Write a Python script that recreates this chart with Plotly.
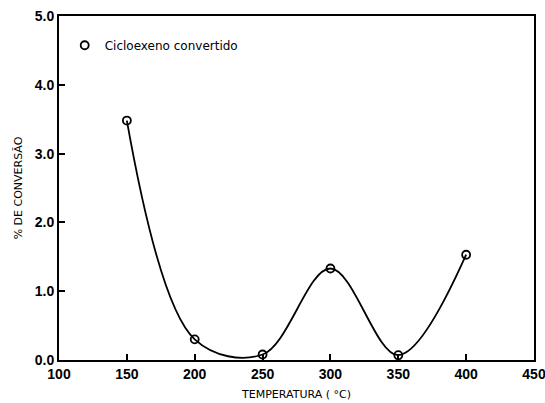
import plotly.graph_objects as go

temperatura = [150, 200, 250, 300, 350, 400]
conversao = [3.48, 0.30, 0.08, 1.33, 0.07, 1.53]

x_ticks = [100, 150, 200, 250, 300, 350, 400, 450]
x_labels = ["100", "150", "200", "250", "300", "350", "400", "450"]
y_ticks = [0, 1, 2, 3, 4, 5]
y_labels = ["0.0", "1.0", "2.0", "3.0", "4.0", "5.0"]
serie = "Cicloexeno convertido"

fig = go.Figure()
fig.add_trace(go.Scatter(
    x=temperatura, y=conversao,
    mode="lines+markers",
    line=dict(color="black", width=1.8, shape="spline", smoothing=1.0),
    marker=dict(symbol="circle-open", size=8, color="black", line=dict(width=1.8)),
    name=serie, showlegend=False,
))
# legend entry: marker only
fig.add_trace(go.Scatter(
    x=[None], y=[None], mode="markers",
    marker=dict(symbol="circle-open", size=8, color="black", line=dict(width=1.8)),
    name=serie, showlegend=True,
))

axis_font = dict(family="Liberation Sans, Arial, sans-serif", size=14, color="black", weight="bold")
title_font = dict(family="DejaVu Sans, sans-serif", size=11, color="black")

fig.update_layout(
    width=545, height=403,
    margin=dict(l=59, r=11, t=16, b=43),
    paper_bgcolor="white", plot_bgcolor="white",
    showlegend=True,
    legend=dict(x=0.012, y=0.915, xanchor="left", yanchor="middle",
                bgcolor="rgba(0,0,0,0)",
                font=dict(family="DejaVu Sans, sans-serif", size=12, color="black"),
                itemwidth=30, tracegroupgap=0),
    xaxis=dict(range=[100, 450], tickvals=x_ticks, ticktext=x_labels,
               automargin=False, ticklabeloverflow="allow",
               showgrid=False, zeroline=False, showline=True, linecolor="black",
               linewidth=2, mirror=True, ticks="inside", ticklen=6, tickwidth=1.5,
               tickcolor="black", tickfont=axis_font,
               title=dict(text="TEMPERATURA ( °C)", standoff=10, font=title_font)),
    yaxis=dict(range=[0, 5], tickvals=y_ticks, ticktext=y_labels,
               automargin=False, ticklabeloverflow="allow",
               showgrid=False, zeroline=False, showline=True, linecolor="black",
               linewidth=2, mirror=True, ticks="inside", ticklen=6, tickwidth=1.5,
               tickcolor="black", tickfont=axis_font,
               title=dict(text="% DE CONVERSÃO", standoff=10, font=title_font)),
)

fig.write_html("out.html", config={"displayModeBar": False},
               post_script="document.body.style.margin='0px';")
